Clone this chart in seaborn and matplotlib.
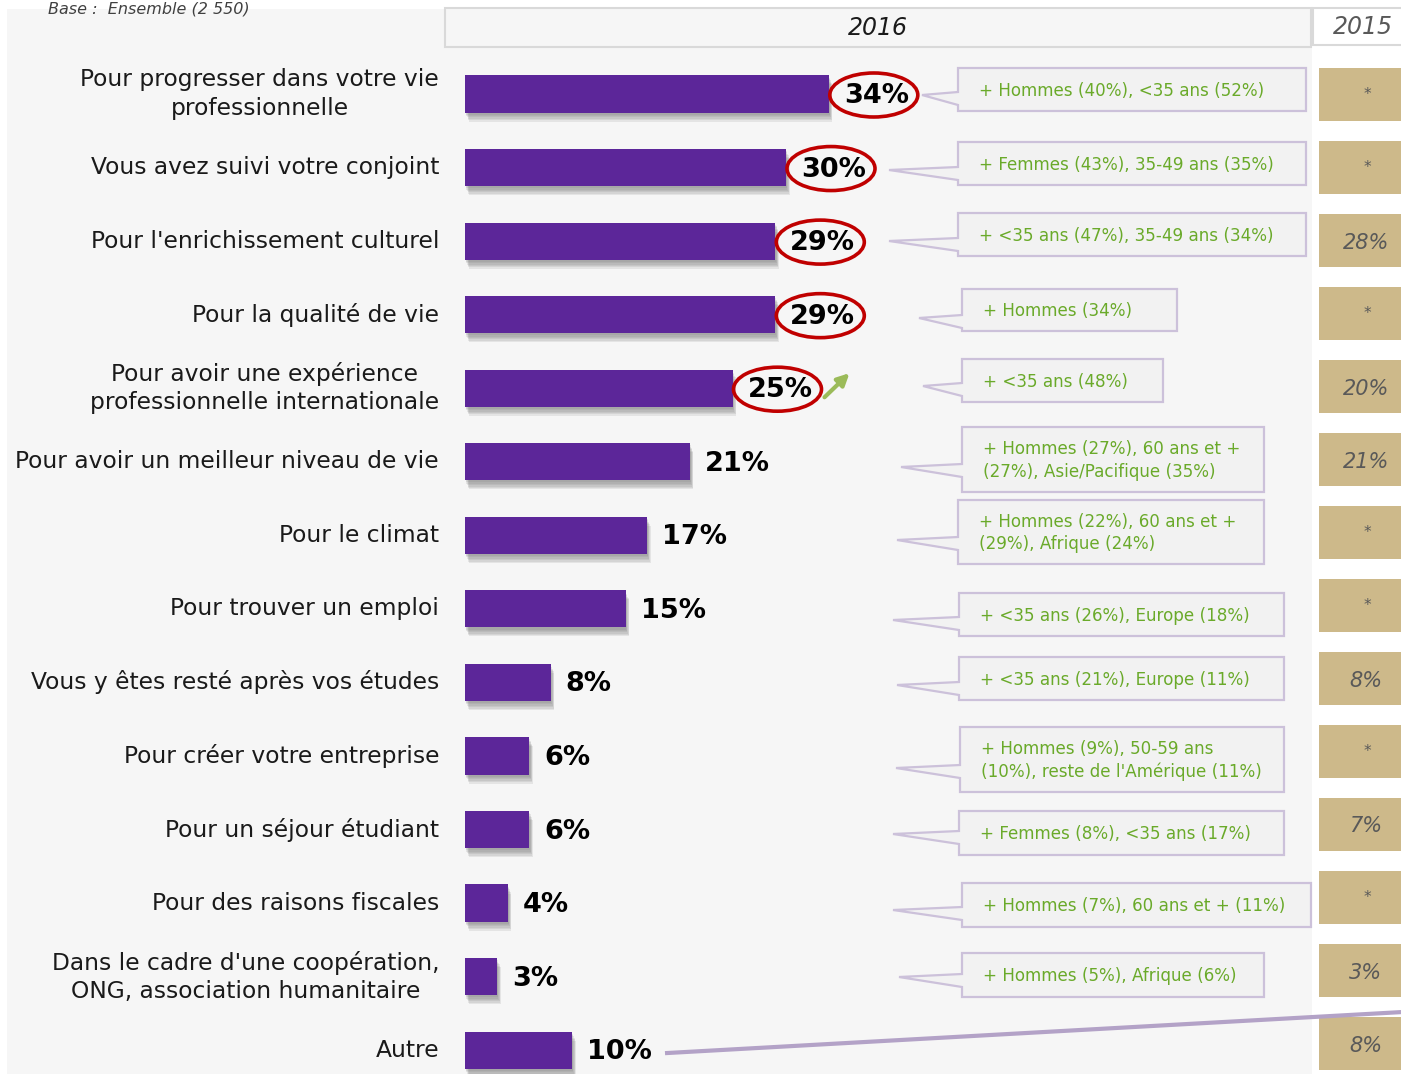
import matplotlib
matplotlib.use("Agg")
import matplotlib.pyplot as plt
import matplotlib.patheffects as pe
from matplotlib.patches import Rectangle, Ellipse, Polygon
import pandas as pd
import seaborn as sns

# ---- data -------------------------------------------------------------
reasons = [
    "Pour progresser dans votre vie\nprofessionnelle",
    "Vous avez suivi votre conjoint",
    "Pour l'enrichissement culturel",
    "Pour la qualité de vie",
    "Pour avoir une expérience\nprofessionnelle internationale",
    "Pour avoir un meilleur niveau de vie",
    "Pour le climat",
    "Pour trouver un emploi",
    "Vous y êtes resté après vos études",
    "Pour créer votre entreprise",
    "Pour un séjour étudiant",
    "Pour des raisons fiscales",
    "Dans le cadre d'une coopération,\nONG, association humanitaire",
    "Autre",
]
pct_2016 = [34, 30, 29, 29, 25, 21, 17, 15, 8, 6, 6, 4, 3, 10]
labels_2015 = ["*", "*", "28%", "*", "20%", "21%", "*", "*", "8%", "*", "7%", "*", "3%", "8%"]
circled = [True, True, True, True, True, False, False, False, False, False, False, False, False, False]
profiles = [
    "+ Hommes (40%), <35 ans (52%)",
    "+ Femmes (43%), 35-49 ans (35%)",
    "+ <35 ans (47%), 35-49 ans (34%)",
    "+ Hommes (34%)",
    "+ <35 ans (48%)",
    "+ Hommes (27%), 60 ans et +\n(27%), Asie/Pacifique (35%)",
    "+ Hommes (22%), 60 ans et +\n(29%), Afrique (24%)",
    "+ <35 ans (26%), Europe (18%)",
    "+ <35 ans (21%), Europe (11%)",
    "+ Hommes (9%), 50-59 ans\n(10%), reste de l'Amérique (11%)",
    "+ Femmes (8%), <35 ans (17%)",
    "+ Hommes (7%), 60 ans et + (11%)",
    "+ Hommes (5%), Afrique (6%)",
    None,
]
base_note = "Base :  Ensemble (2 550)"

# ---- colours ----------------------------------------------------------
BAR = "#5C2699"
PANEL = "#F6F6F6"
RED = "#C00000"
GREEN_TXT = "#6AAA2A"
CALLOUT_EDGE = "#CCC1DA"
CALLOUT_FILL = "#F2F2F2"
TAN = "#CDB98A"
GREY_TXT = "#595959"

# ---- canvas: one axes over the whole figure, linear pixel mapping -------
W, H = 1401, 1074
fig = plt.figure(figsize=(W / 100, H / 100), dpi=100)
fig.patch.set_facecolor("white")
ax = fig.add_axes([0, 0, 1, 1])

X0, SX = 465, 10.7    # bar origin (px) and px per percentage point
Y0, SY = 94, 73.55    # first row centre (px) and row pitch (px)


def dx(px):
    return (px - X0) / SX


def dy(py):
    return (py - Y0) / SY


df = pd.DataFrame({"raison": reasons, "pct": pct_2016})
sns.barplot(data=df, x="pct", y="raison", orient="h", color=BAR,
            saturation=1, width=0.505, errorbar=None, ax=ax, zorder=3)
bars = list(ax.patches)
# soft drop shadow built from a few stacked, faint offset copies
soft_shadow = [pe.SimplePatchShadow(offset=(o * 0.4, -o), shadow_rgbFace="#6f6f6f", alpha=0.13)
               for o in (1.5, 2.5, 3.5, 4.5, 5.5, 6.5)]
for b in bars:
    b.set_edgecolor("none")
    b.set_path_effects(soft_shadow + [pe.Normal()])

ax.set_xlim(dx(0), dx(W))
ax.set_ylim(dy(H), dy(0))
ax.axis("off")

# background panel and headers
ax.add_patch(Rectangle((dx(7), dy(9)), (1312 - 7) / SX, (H - 9) / SY,
                       fc=PANEL, ec="none", zorder=0))
ax.add_patch(Rectangle((dx(445), dy(8)), (1311 - 445) / SX, 39 / SY,
                       fc=PANEL, ec="#D9D9D9", lw=1.5, zorder=1))
ax.text(dx(878), dy(28), "2016", ha="center", va="center", fontsize=17,
        style="italic", color="#1a1a1a", zorder=4)
ax.add_patch(Rectangle((dx(1313), dy(8)), 95 / SX, 37 / SY,
                       fc="white", ec="#D9D9D9", lw=1.5, zorder=1))
ax.text(dx(1363), dy(27), "2015", ha="center", va="center", fontsize=17,
        style="italic", color=GREY_TXT, zorder=4)
ax.text(dx(48), dy(1), base_note, ha="left", va="top", fontsize=11.5,
        style="italic", color="#404040", zorder=4)

# category labels, value labels, highlight rings
for i, (r, v) in enumerate(zip(reasons, pct_2016)):
    ax.text(dx(439), i, r, ha="right", va="center", multialignment="center",
            fontsize=16.8, color="#1a1a1a", linespacing=1.28, zorder=4)
    ax.text(v + 15 / SX, i + 2 / SY, f"{v}%", ha="left", va="center",
            fontsize=19.5, fontweight="bold", color="black", zorder=6)
    if circled[i]:
        ax.add_patch(Ellipse((v + 45 / SX, i + 1 / SY), 88 / SX, 44 / SY,
                             fill=False, ec=RED, lw=2.6, zorder=5))

# upward trend arrow next to the 25% value
v4 = pct_2016[4]
ax.annotate("", xy=(v4 + 119 / SX, 4 - 17 / SY), xytext=(v4 + 90 / SX, 4 + 11 / SY),
            arrowprops=dict(arrowstyle="-|>,head_length=0.7,head_width=0.35",
                            color="#9BBB59", lw=3), zorder=6)

# profile call-outs: box (x0, x1, y0, y1) and pointer tip (tx, ty), in px
callout_geom = [
    (958, 1306, 68, 111, 922, 95),
    (958, 1306, 142, 185, 889, 170),
    (958, 1306, 213, 256, 889, 241),
    (962, 1177, 289, 331, 919, 318),
    (962, 1163, 359, 402, 923, 386),
    (962, 1264, 427, 492, 901, 467),
    (958, 1264, 500, 564, 897, 540),
    (959, 1284, 593, 636, 893, 620),
    (959, 1284, 657, 700, 897, 685),
    (960, 1284, 727, 792, 896, 768),
    (959, 1284, 811, 855, 893, 834),
    (962, 1311, 883, 927, 893, 910),
    (962, 1264, 953, 997, 899, 977),
]
for txt, (x0, x1, y0, y1, tx, ty) in zip(profiles, callout_geom):
    pts = [(x0, y0), (x1, y0), (x1, y1), (x0, y1), (x0, ty + 10), (tx, ty), (x0, ty - 3)]
    ax.add_patch(Polygon([(dx(px), dy(py)) for px, py in pts], closed=True,
                         fc=CALLOUT_FILL, ec=CALLOUT_EDGE, lw=1.6, zorder=4))
    ax.text(dx(x0 + 21), dy((y0 + y1) / 2 + 1), txt, ha="left", va="center",
            fontsize=12.1, color=GREEN_TXT, linespacing=1.35, zorder=5)

# connector for "Autre"
v13 = pct_2016[13]
ax.plot([v13 + 93 / SX, dx(W + 2)], [13 + 3 / SY, dy(1012)], color="#B3A2C7",
        lw=3, solid_capstyle="butt", zorder=6, clip_on=False)

# 2015 column
for i, t in enumerate(labels_2015):
    yc = 94.5 + 73.0 * i
    ax.add_patch(Rectangle((dx(1319), dy(yc - 26.5)), 90 / SX, 53 / SY,
                           fc=TAN, ec="none", zorder=1))
    if t == "*":
        ax.text(dx(1367), dy(yc), t, ha="center", va="center", fontsize=11,
                style="italic", color=GREY_TXT, zorder=4)
    else:
        ax.text(dx(1366), dy(yc + 2), t, ha="center", va="center", fontsize=15,
                style="italic", color=GREY_TXT, zorder=4)

fig.savefig("out.png", dpi=100, facecolor="white")
